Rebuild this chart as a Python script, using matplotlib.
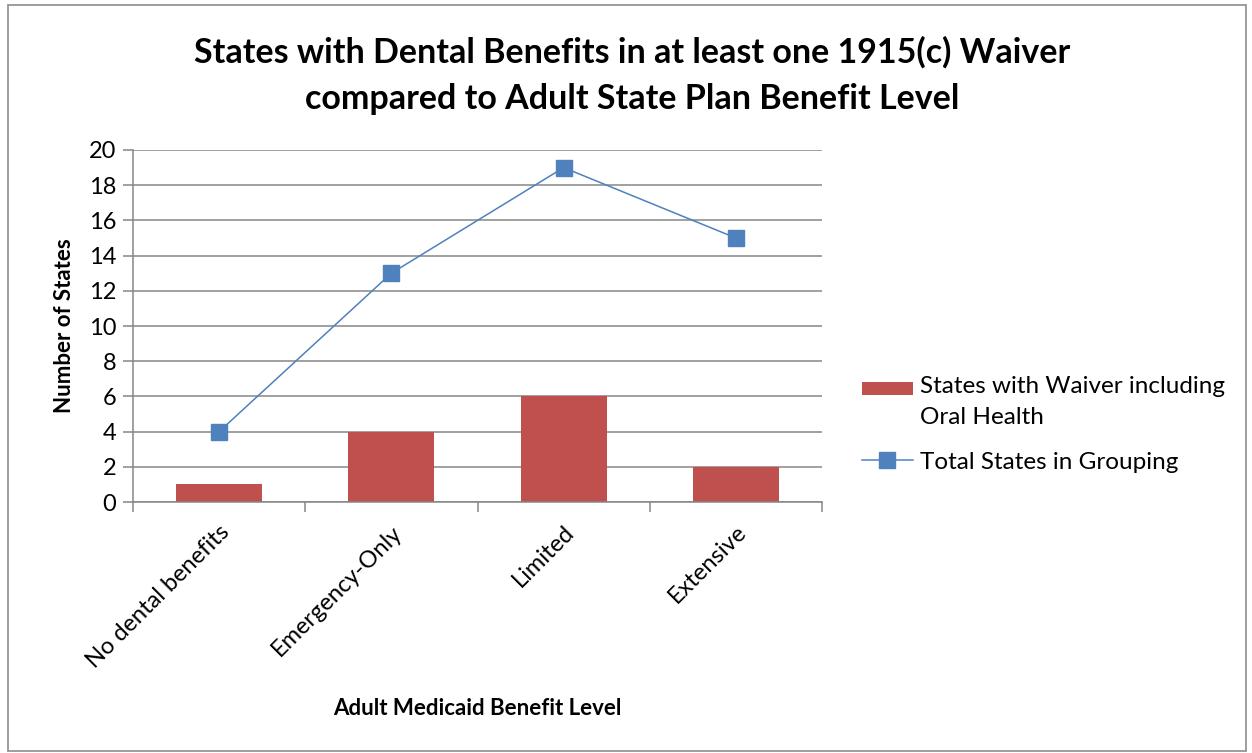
import matplotlib
matplotlib.use("Agg")
import matplotlib.pyplot as plt
from matplotlib.patches import Rectangle
from matplotlib.legend_handler import HandlerPatch
import numpy as np

categories = ["No dental benefits", "Emergency-Only", "Limited", "Extensive"]
waiver_oral = [1, 4, 6, 2]
total_states = [4, 13, 19, 15]
yticks = list(range(0, 21, 2))

plt.rcParams['font.family'] = ['Lato', 'DejaVu Sans']

fig = plt.figure(figsize=(12.52, 7.53), dpi=100)
fig.patches.append(Rectangle((0.006, 0.003), 0.989, 0.99, transform=fig.transFigure,
                             fill=False, edgecolor='#8c8c8c', linewidth=1.2))
ax = fig.add_axes([0.1062, 0.3333, 0.5504, 0.4675])

x = np.arange(len(categories))
bars = ax.bar(x, waiver_oral, width=0.5, color='#C0504D', zorder=2)
line, = ax.plot(x, total_states, color='#4F81BD', linewidth=1.1, marker='s', markersize=11.5,
                markerfacecolor='#4F81BD', markeredgecolor='#4F81BD', zorder=3)

ax.set_xlim(-0.5, len(categories) - 0.5)
ax.set_ylim(0, 20)
ax.set_yticks(yticks)
ax.set_yticklabels([str(v) for v in yticks], fontsize=17)
ax.yaxis.grid(True, color='#868686', linewidth=1.1, zorder=0)
ax.set_axisbelow(True)

ax.set_xticks(np.arange(-0.5, len(categories), 1.0))
ax.set_xticklabels([])
ax.set_xticks(x, minor=True)
ax.set_xticklabels(categories, minor=True, rotation=45, ha='right', rotation_mode='anchor', fontsize=17)
ax.tick_params(axis='x', which='minor', length=0, pad=14)
ax.tick_params(axis='x', which='major', length=7, color='#868686', width=1.1)
ax.tick_params(axis='y', length=7, color='#868686', width=1.1, pad=5)

for s in ['top', 'right']:
    ax.spines[s].set_visible(False)
for s in ['left', 'bottom']:
    ax.spines[s].set_color('#868686')
    ax.spines[s].set_linewidth(1.1)

ax.set_ylabel('Number of States', fontsize=16, fontweight='bold', labelpad=10)
ax.set_xlabel('Adult Medicaid Benefit Level', fontsize=16, fontweight='bold', labelpad=19)

fig.suptitle('States with Dental Benefits in at least one 1915(c) Waiver\ncompared to Adult State Plan Benefit Level',
             fontsize=24.5, fontweight='bold', x=0.505, y=0.952, linespacing=1.55)


def raised_patch(legend, orig_handle, xdescent, ydescent, width, height, fontsize):
    return Rectangle((-xdescent, -ydescent + 11), width, height * 0.8)


bar_handle = bars.patches[0]
leg = ax.legend([bar_handle, line], ['States with Waiver including\nOral Health', 'Total States in Grouping'],
                loc='center left', bbox_to_anchor=(1.026, 0.22), frameon=False, fontsize=17.5,
                handlelength=2.1, handletextpad=0.3, labelspacing=1.0,
                handler_map={bar_handle: HandlerPatch(patch_func=raised_patch)})
leg.get_texts()[0].set_linespacing(1.55)

fig.savefig('out.png', dpi=100)
